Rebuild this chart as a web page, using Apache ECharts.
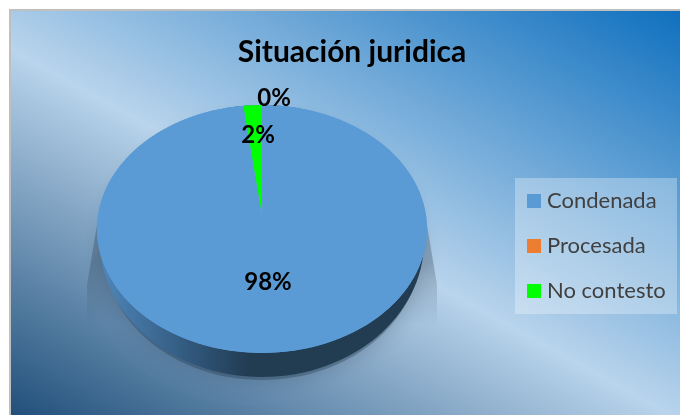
<!DOCTYPE html>
<html>
<head>
<meta charset="utf-8">
<style>
  html, body { margin: 0; padding: 0; background: #fff; }
  #chart { width: 680px; height: 415px; }
</style>
</head>
<body>
<div id="chart"></div>
<script src="https://cdn.jsdelivr.net/npm/echarts@6/dist/echarts.min.js"></script>
<script>
const categories = ["Condenada", "Procesada", "No contesto"];
const values = [98.2, 0, 1.8];
const colors = ["#5b9bd5", "#ed7d31", "#00ff00"];

// el pastel es una elipse, por eso se escala en Y
const cx = 262, cy = 229, rx = 165, ry = 124;
// por la perspectiva el vertice de la cuña queda mas arriba que el centro
const apexY = 215;
const fontName = "Lato";
// centro de cada etiqueta de porcentaje
const labelPos = [[268, 282], [274, 98], [258, 135]];

const total = values.reduce((a, b) => a + b, 0);

function renderSlice(idx) {
  return function (params, api) {
    const value = api.value(0);
    const before = values.slice(0, idx).reduce((a, b) => a + b, 0);
    const start = -Math.PI / 2 + (before / total) * Math.PI * 2;
    const end = start + (value / total) * Math.PI * 2;
    const oy = idx === 0 ? cy : apexY;
    const sy = idx === 0 ? ry : ry - (cy - apexY);
    return {
      type: "group",
      children: [
        {
          type: "group",
          x: cx,
          y: oy,
          scaleY: sy / rx,
          children: [
            {
              type: "sector",
              shape: { cx: 0, cy: 0, r: rx, r0: 0, startAngle: start, endAngle: end, clockwise: true },
              style: { fill: colors[idx] }
            }
          ]
        },
        {
          type: "text",
          x: labelPos[idx][0],
          y: labelPos[idx][1],
          z2: 10,
          style: {
            text: Math.round(value) + "%",
            fill: "#000",
            font: "bold 24px " + fontName,
            align: "center",
            verticalAlign: "middle"
          }
        }
      ]
    };
  };
}

function wedgeFill() {
  return {
    type: "linear", x: 0, y: 262, x2: 0, y2: 325, global: true,
    colorStops: [
      { offset: 0, color: "rgba(35,55,75,0.3)" },
      { offset: 1, color: "rgba(35,55,75,0)" }
    ]
  };
}

const chart = echarts.init(document.getElementById("chart"));
chart.setOption({
  animation: false,
  title: {
    text: "Situación juridica",
    left: 347,
    top: 32,
    textAlign: "center",
    textStyle: { color: "#000", fontFamily: fontName, fontWeight: "bold", fontSize: 30 }
  },
  legend: {
    left: 527,
    top: 190,
    orient: "vertical",
    icon: "rect",
    itemWidth: 14,
    itemHeight: 14,
    itemGap: 23,
    padding: 0,
    data: categories,
    textStyle: { color: "#404040", fontFamily: fontName, fontSize: 22, padding: [0, 0, 0, 1] }
  },
  graphic: [
    {
      type: "rect",
      z: -10,
      shape: { x: 10, y: 10, width: 690, height: 420 },
      style: {
        fill: {
          type: "linear", x: 180, y: 513, x2: 510, y2: -83, global: true,
          colorStops: [
            { offset: 0, color: "#1f4e79" },
            { offset: 0.475, color: "#b9d4ec" },
            { offset: 1, color: "#0f70be" }
          ]
        },
        stroke: "#bfbfbf",
        lineWidth: 2
      }
    },
    // sombra bajo el pastel
    {
      type: "polygon",
      z: -6,
      shape: { points: [[97, 225], [87, 285], [87, 325], [140, 340], [140, 225]] },
      style: { fill: wedgeFill() }
    },
    {
      type: "polygon",
      z: -6,
      shape: { points: [[427, 225], [437, 285], [437, 325], [385, 340], [385, 225]] },
      style: { fill: wedgeFill() }
    },
    {
      type: "ellipse",
      z: -5,
      shape: { cx: cx, cy: 250, rx: 158, ry: 130 },
      style: { fill: "rgba(35,55,75,0.35)", shadowBlur: 22, shadowColor: "rgba(35,55,75,0.8)" }
    },
    // canto del pastel
    {
      type: "ellipse",
      z: -2,
      shape: { cx: cx, cy: 241, rx: 162, ry: 136 },
      style: {
        fill: {
          type: "linear", x: 97, y: 0, x2: 427, y2: 0, global: true,
          colorStops: [
            { offset: 0, color: "#5088bc" },
            { offset: 0.3, color: "#2f5578" },
            { offset: 0.46, color: "#223c52" },
            { offset: 1, color: "#223c52" }
          ]
        }
      }
    },
    // base azul bajo las cuñas
    {
      type: "ellipse",
      z: -1,
      shape: { cx: cx, cy: cy, rx: rx, ry: ry },
      style: { fill: colors[0] }
    },
    // fondo de la leyenda
    {
      type: "rect",
      z: -1,
      shape: { x: 515, y: 178, width: 162, height: 136 },
      style: { fill: "rgba(255,255,255,0.3)" }
    }
  ],
  series: categories.map((name, i) => ({
    name: name,
    type: "custom",
    coordinateSystem: "none",
    z: 2 + i,
    silent: true,
    itemStyle: { color: colors[i] },
    data: [[values[i]]],
    renderItem: renderSlice(i)
  }))
});
</script>
</body>
</html>
